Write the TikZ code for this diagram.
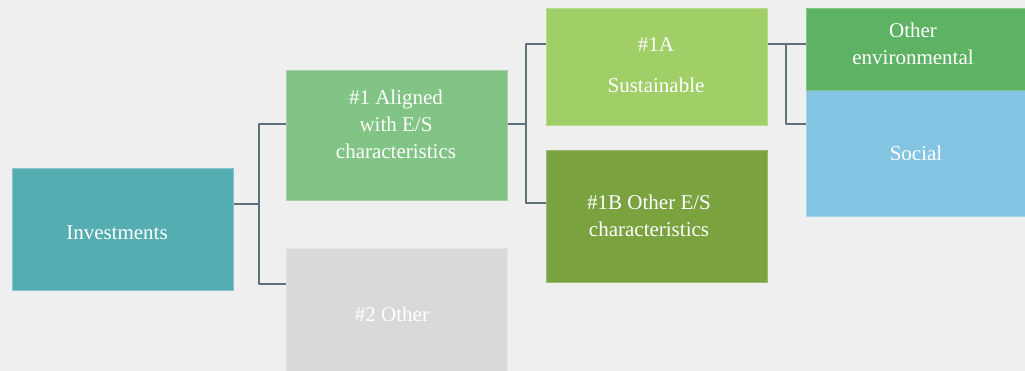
\documentclass[tikz,border=0pt]{standalone}
\usepackage{fontspec}
\setmainfont{Liberation Serif}
\definecolor{bg}{HTML}{EFEFEF}
\definecolor{cInv}{HTML}{54ADB1}
\definecolor{cAl}{HTML}{82C485}
\definecolor{cOth}{HTML}{D9D9D9}
\definecolor{cSus}{HTML}{A0CE67}
\definecolor{cOes}{HTML}{7AA23F}
\definecolor{cEnv}{HTML}{5EB264}
\definecolor{cSoc}{HTML}{85C5E4}
\definecolor{cLine}{HTML}{5E717B}
\tikzset{
  box/.style={rectangle, inner sep=0pt, anchor=north west, line width=0.8pt},
  lbl/.style={text=white, align=center, inner sep=0pt, font=\fontsize{21}{27}\selectfont},
  conn/.style={draw=cLine, line width=2pt, line join=round}
}
\begin{document}
\begin{tikzpicture}[x=1pt, y=-1pt]
\fill[bg] (0,0) rectangle (1025,371);
\useasboundingbox (0,0) rectangle (1025,371);

% boxes
\node[box, fill=cInv, draw=cInv!70!white, minimum width=221pt, minimum height=122pt] (inv) at (12,168) {};
\node[box, fill=cAl, draw=cAl!75!white, minimum width=221pt, minimum height=130pt] (al) at (286,70) {};
\node[box, fill=cOth, draw=cOth!70!white, minimum width=221pt, minimum height=140pt] (oth) at (286,248) {};
\node[box, fill=cSus, draw=cSus!75!white, minimum width=221pt, minimum height=117pt] (sus) at (546,8) {};
\node[box, fill=cOes, draw=cOes!75!white, minimum width=221pt, minimum height=132pt] (oes) at (546,150) {};
\node[box, fill=cSoc, draw=cSoc!75!white, minimum width=225pt, minimum height=126pt] (soc) at (806,90) {};
\node[box, fill=cEnv, draw=cEnv!75!white, minimum width=225pt, minimum height=82pt] (env) at (806,8) {};

% labels
\node[lbl] (tinv) at (117,233) {Investments};
\node[lbl] (tal) at (396,124) {\#1 Aligned\\with E/S\\characteristics};
\node[lbl] (toth) at (392,314) {\#2 Other};
\node[lbl] (tsus) at (656,65) {\#1A\\[14pt]Sustainable};
\node[lbl] (toes) at (649,216) {\#1B Other E/S\\characteristics};
\node[lbl] (tenv) at (913,44) {Other\\environmental};
\node[lbl] (tsoc) at (916,153) {Social};

% junctions
\coordinate (j0) at (259,204);
\coordinate (j1) at (259,124);
\coordinate (j2) at (259,284);
\coordinate (k0) at (526,124);
\coordinate (k1) at (526,44);
\coordinate (k2) at (526,203);
\coordinate (m0) at (786,44);
\coordinate (m2) at (786,124);

% connectors
\draw[conn] (inv.east |- j0) -- (j0);
\draw[conn] (al.west |- j1) -- (j1) -- (j2) -- (oth.west |- j2);
\draw[conn] (al.east |- k0) -- (k0);
\draw[conn] (sus.west |- k1) -- (k1) -- (k2) -- (oes.west |- k2);
\draw[conn] (sus.east |- m0) -- (env.west |- m0);
\draw[conn] (m0) -- (m2) -- (soc.west |- m2);
\end{tikzpicture}
\end{document}
